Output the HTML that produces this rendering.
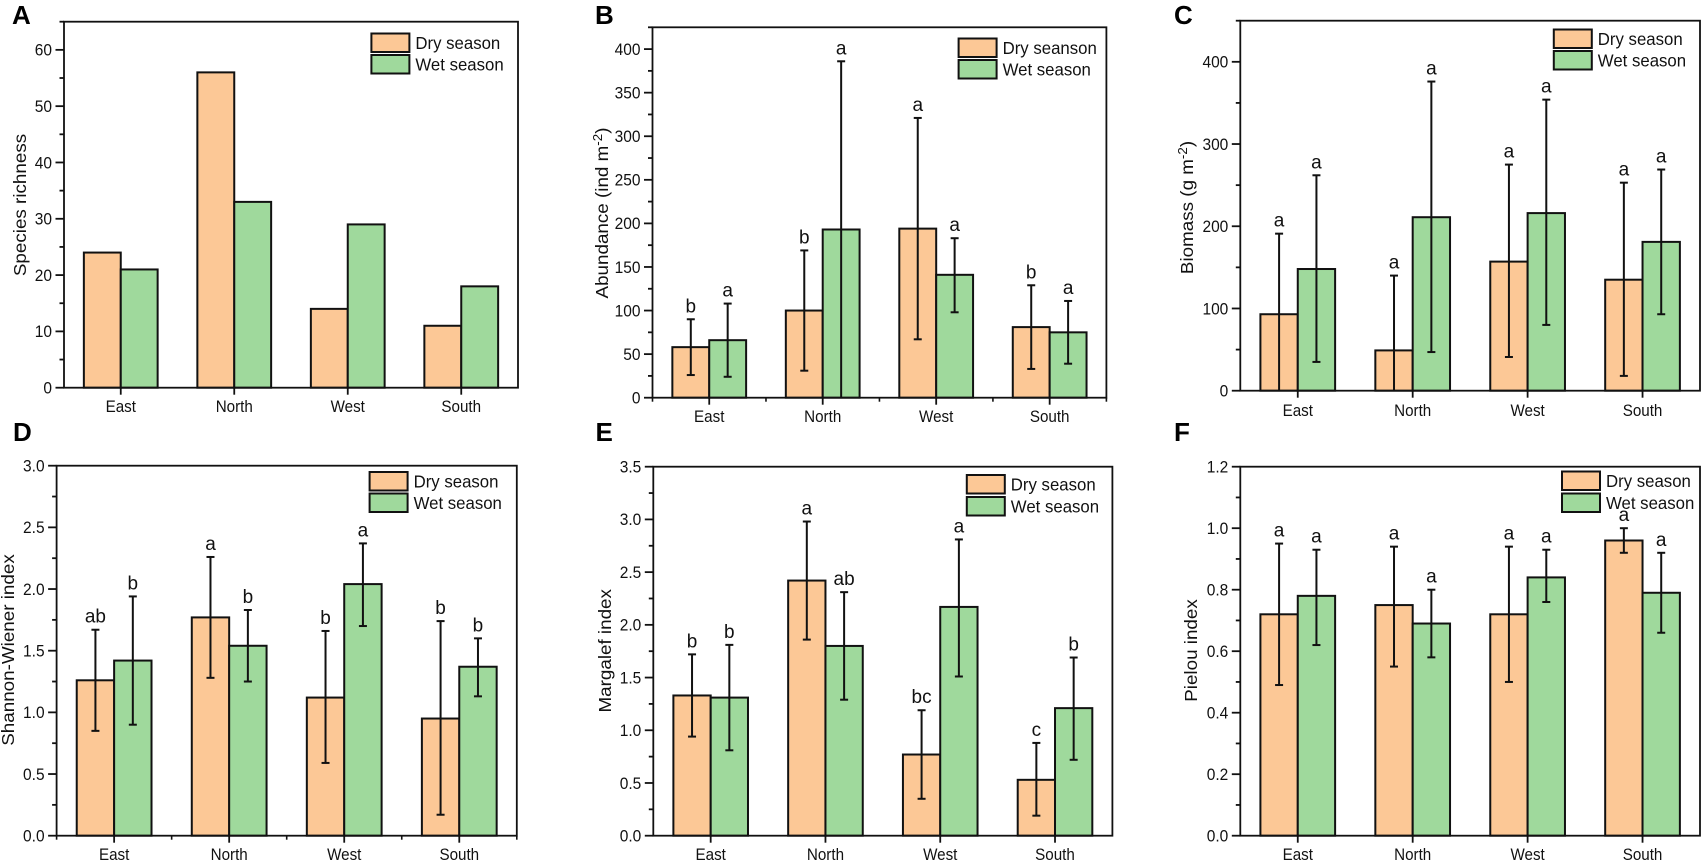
<!DOCTYPE html>
<html lang="en">
<head>
<meta charset="utf-8">
<title>Seasonal community metrics by region</title>
<style>
  html, body { margin: 0; padding: 0; background: #fff; }
  body { width: 1701px; height: 862px; overflow: hidden; }
  svg { display: block; font-family: "Liberation Sans", Arial, sans-serif; fill: #111; filter: blur(0.35px); }
</style>
</head>
<body>
<svg id="figure" xmlns="http://www.w3.org/2000/svg" width="1701" height="862" viewBox="0 0 1701 862"></svg>
<script>
// ---------- shared data ----------
const categories = ['East', 'North', 'West', 'South'];

// Panel A: Species richness
const aDry = [24, 56, 14, 11];
const aWet = [21, 33, 29, 18];
const aTickLabels = ['0', '10', '20', '30', '40', '50', '60'];

// Panel B: Abundance
const bDry = [58, 100, 194, 81];
const bWet = [66, 193, 141, 75];
const bDryHigh = [90, 169, 321, 129];
const bDryLow = [26, 31, 67, 33];
const bWetHigh = [108, 386, 183, 111];
const bWetLow = [24, 0, 98, 39];
const bDryLetters = ['b', 'b', 'a', 'b'];
const bWetLetters = ['a', 'a', 'a', 'a'];
const bTickLabels = ['0', '50', '100', '150', '200', '250', '300', '350', '400'];

// Panel C: Biomass
const cDry = [93, 49, 157, 135];
const cWet = [148, 211, 216, 181];
const cDryHigh = [191, 140, 275, 253];
const cDryLow = [-5, -42, 41, 18];
const cWetHigh = [262, 376, 354, 269];
const cWetLow = [35, 47, 80, 93];
const cDryLetters = ['a', 'a', 'a', 'a'];
const cWetLetters = ['a', 'a', 'a', 'a'];
const cTickLabels = ['0', '100', '200', '300', '400'];

// Panel D: Shannon-Wiener index
const dDry = [1.26, 1.77, 1.12, 0.95];
const dWet = [1.42, 1.54, 2.04, 1.37];
const dDryHigh = [1.67, 2.26, 1.66, 1.74];
const dDryLow = [0.85, 1.28, 0.59, 0.17];
const dWetHigh = [1.94, 1.83, 2.37, 1.60];
const dWetLow = [0.90, 1.25, 1.70, 1.13];
const dDryLetters = ['ab', 'a', 'b', 'b'];
const dWetLetters = ['b', 'b', 'a', 'b'];
const dTickLabels = ['0.0', '0.5', '1.0', '1.5', '2.0', '2.5', '3.0'];

// Panel E: Margalef index
const eDry = [1.33, 2.42, 0.77, 0.53];
const eWet = [1.31, 1.80, 2.17, 1.21];
const eDryHigh = [1.72, 2.98, 1.19, 0.88];
const eDryLow = [0.94, 1.86, 0.35, 0.19];
const eWetHigh = [1.81, 2.31, 2.81, 1.69];
const eWetLow = [0.81, 1.29, 1.51, 0.72];
const eDryLetters = ['b', 'a', 'bc', 'c'];
const eWetLetters = ['b', 'ab', 'a', 'b'];
const eTickLabels = ['0.0', '0.5', '1.0', '1.5', '2.0', '2.5', '3.0', '3.5'];

// Panel F: Pielou index
const fDry = [0.72, 0.75, 0.72, 0.96];
const fWet = [0.78, 0.69, 0.84, 0.79];
const fDryHigh = [0.95, 0.94, 0.94, 1.00];
const fDryLow = [0.49, 0.55, 0.50, 0.92];
const fWetHigh = [0.93, 0.80, 0.93, 0.92];
const fWetLow = [0.62, 0.58, 0.76, 0.66];
const fDryLetters = ['a', 'a', 'a', 'a'];
const fWetLetters = ['a', 'a', 'a', 'a'];
const fTickLabels = ['0.0', '0.2', '0.4', '0.6', '0.8', '1.0', '1.2'];

// ---------- panel layout ----------
const panels = [
  { key:'a', letter:'A', letterX:12, letterY:24, left:64, right:518, top:21.7, bottom:387.7, yMax:65,
    title:'Species richness', sup:'', after:'', titleX:26, titleY:205, catY:412, xMinor:false,
    dry:aDry, wet:aWet, ticks:aTickLabels,
    legendName:'Dry season', legX:371.4, legY1:33.5, legY2:55 },
  { key:'b', letter:'B', letterX:595, letterY:24, left:652.5, right:1106.4, top:27.3, bottom:397.7, yMax:425,
    title:'Abundance (ind m', sup:'-2', after:')', titleX:608, titleY:213, catY:422, xMinor:true,
    dry:bDry, wet:bWet, dryHigh:bDryHigh, dryLow:bDryLow, wetHigh:bWetHigh, wetLow:bWetLow,
    dryLetters:bDryLetters, wetLetters:bWetLetters, ticks:bTickLabels,
    legendName:'Dry seanson', legX:958.6, legY1:38.5, legY2:60 },
  { key:'c', letter:'C', letterX:1174, letterY:24, left:1240.3, right:1700, top:20.7, bottom:390.7, yMax:450,
    title:'Biomass (g m', sup:'-2', after:')', titleX:1193, titleY:207.5, catY:416, xMinor:false,
    dry:cDry, wet:cWet, dryHigh:cDryHigh, dryLow:cDryLow, wetHigh:cWetHigh, wetLow:cWetLow,
    dryLetters:cDryLetters, wetLetters:cWetLetters, ticks:cTickLabels,
    legendName:'Dry season', legX:1553.8, legY1:29.5, legY2:51 },
  { key:'d', letter:'D', letterX:13, letterY:441, left:56.6, right:516.8, top:465.7, bottom:835.7, yMax:3,
    title:'Shannon-Wiener index', sup:'', after:'', titleX:14, titleY:650, catY:860, xMinor:true,
    dry:dDry, wet:dWet, dryHigh:dDryHigh, dryLow:dDryLow, wetHigh:dWetHigh, wetLow:dWetLow,
    dryLetters:dDryLetters, wetLetters:dWetLetters, ticks:dTickLabels,
    legendName:'Dry season', legX:369.6, legY1:472, legY2:493.5 },
  { key:'e', letter:'E', letterX:595.5, letterY:441, left:653.3, right:1112.4, top:466.7, bottom:835.7, yMax:3.5,
    title:'Margalef index', sup:'', after:'', titleX:611, titleY:650.8, catY:860, xMinor:false,
    dry:eDry, wet:eWet, dryHigh:eDryHigh, dryLow:eDryLow, wetHigh:eWetHigh, wetLow:eWetLow,
    dryLetters:eDryLetters, wetLetters:eWetLetters, ticks:eTickLabels,
    legendName:'Dry season', legX:966.8, legY1:475, legY2:497 },
  { key:'f', letter:'F', letterX:1174, letterY:441, left:1240.3, right:1700, top:466.7, bottom:835.7, yMax:1.2,
    title:'Pielou index', sup:'', after:'', titleX:1197, titleY:650.5, catY:860, xMinor:false,
    dry:fDry, wet:fWet, dryHigh:fDryHigh, dryLow:fDryLow, wetHigh:fWetHigh, wetLow:fWetLow,
    dryLetters:fDryLetters, wetLetters:fWetLetters, ticks:fTickLabels,
    legendName:'Dry season', legX:1562, legY1:471.5, legY2:493.5 }
];

const DRY_COLOR = '#FCC896';
const WET_COLOR = '#9FD99C';
const INK = '#111';
const SVG_NS = 'http://www.w3.org/2000/svg';
const figure = document.getElementById('figure');

function svgEl(tag, attrs, parent, text) {
  const node = document.createElementNS(SVG_NS, tag);
  for (const k in attrs) node.setAttribute(k, attrs[k]);
  if (text !== undefined) node.textContent = text;
  parent.appendChild(node);
  return node;
}

function drawPanel(p) {
  const g = svgEl('g', {}, figure);
  
  

  const yScale = v => p.bottom - (Math.max(v, 0) / p.yMax) * (p.bottom - p.top);
  const unit = (p.right - p.left) / categories.length;
  const xCenter = i => p.left + unit * (i + 0.5);
  const barW = unit * 0.325;

  // panel letter
  const panelLetter = svgEl('text', { x: p.letterX, y: p.letterY, 'font-size': 26, 'font-weight': 700, fill: '#000' }, g, p.letter);
  
  

  // y axis title
  const titleEl = svgEl('text', {
    transform: `translate(${p.titleX},${p.titleY}) rotate(-90) scale(1.07,1)`,
    'font-size': 17.6, 'text-anchor': 'middle'
  }, g);
  
  
  svgEl('tspan', {}, titleEl, p.title);
  if (p.sup) {
    svgEl('tspan', { dy: -6, 'font-size': 12.5 }, titleEl, p.sup);
    svgEl('tspan', { dy: 6 }, titleEl, p.after);
  }

  // bars
  const series = [
    { name: 'dry', values: p.dry, color: DRY_COLOR, offset: -barW },
    { name: 'wet', values: p.wet, color: WET_COLOR, offset: 0 }
  ];
  series.forEach(s => {
    s.values.forEach((v, i) => {
      const y = yScale(v);
      const bar = svgEl('rect', {
        x: xCenter(i) + s.offset, y: y, width: barW, height: p.bottom - y,
        fill: s.color, stroke: INK, 'stroke-width': 2
      }, g);
      
      
    });
  });

  // y ticks
  const tickValues = p.ticks.map(Number);
  const step = tickValues[1] - tickValues[0];
  for (let k = 0; ; k++) {
    const v = step / 2 * k;
    if (v > p.yMax + 1e-9) break;
    const major = k % 2 === 0;
    const y = yScale(v);
    const tick = svgEl('line', {
      x1: p.left - (major ? 8.5 : 4.5), x2: p.left, y1: y, y2: y,
      stroke: INK, 'stroke-width': 1.8
    }, g);
    
    
  }
  p.ticks.forEach((label, i) => {
    const tickText = svgEl('text', {
      transform: `translate(${p.left - 12},${yScale(tickValues[i]) + 5.8}) scale(1,1.08)`,
      'font-size': 15.5, 'text-anchor': 'end'
    }, g, label);
    
    
  });

  // x ticks and labels
  categories.forEach((name, i) => {
    const tick = svgEl('line', {
      x1: xCenter(i), x2: xCenter(i), y1: p.bottom, y2: p.bottom + 7,
      stroke: INK, 'stroke-width': 1.8
    }, g);
    
    

    const catLabel = svgEl('text', {
      transform: `translate(${xCenter(i)},${p.catY}) scale(1,1.08)`,
      'font-size': 15.2, 'text-anchor': 'middle'
    }, g, name);
    
    
  });
  if (p.xMinor) {
    for (let i = 0; i <= categories.length; i++) {
      const x = p.left + unit * i;
      const minor = svgEl('line', { x1: x, x2: x, y1: p.bottom, y2: p.bottom + 4, stroke: INK, 'stroke-width': 1.6 }, g);
      
      
    }
  }

  // frame
  const frame = svgEl('rect', {
    x: p.left, y: p.top, width: p.right - p.left, height: p.bottom - p.top,
    fill: 'none', stroke: INK, 'stroke-width': 1.8
  }, g);
  
  

  // error bars and significance letters
  if (p.dryHigh) {
    const errSeries = [
      { name: 'dry', high: p.dryHigh, low: p.dryLow, letters: p.dryLetters, offset: -barW / 2 },
      { name: 'wet', high: p.wetHigh, low: p.wetLow, letters: p.wetLetters, offset: barW / 2 }
    ];
    errSeries.forEach(s => {
      s.high.forEach((hi, i) => {
        const x = xCenter(i) + s.offset;
        const yHi = yScale(hi);
        const yLo = yScale(s.low[i]);
        const stem = svgEl('line', { x1: x, x2: x, y1: yHi, y2: yLo, stroke: INK, 'stroke-width': 2 }, g);
        
        

        const capHi = svgEl('line', { x1: x - 4, x2: x + 4, y1: yHi, y2: yHi, stroke: INK, 'stroke-width': 2 }, g);
        
        

        if (s.low[i] > 0) {
          const capLo = svgEl('line', { x1: x - 4, x2: x + 4, y1: yLo, y2: yLo, stroke: INK, 'stroke-width': 2 }, g);
          
          
        }

        const sig = svgEl('text', {
          x: x, y: yHi - 7, 'font-size': 19, 'text-anchor': 'middle'
        }, g, s.letters[i]);
        
        
      });
    });
  }

  // legend
  const legend = svgEl('g', {}, g);
  
  
  const entries = [
    { label: p.legendName, color: DRY_COLOR, y: p.legY1, id: 'dry' },
    { label: 'Wet season', color: WET_COLOR, y: p.legY2, id: 'wet' }
  ];
  entries.forEach(en => {
    const swatch = svgEl('rect', {
      x: p.legX, y: en.y, width: 38, height: 18.5,
      fill: en.color, stroke: INK, 'stroke-width': 2
    }, legend);
    
    

    const legendText = svgEl('text', {
      transform: `translate(${p.legX + 44},${en.y + 15.5}) scale(1,1.07)`,
      'font-size': 16.8
    }, legend, en.label);
    
    
  });
}

panels.forEach(drawPanel);
</script>
</body>
</html>
